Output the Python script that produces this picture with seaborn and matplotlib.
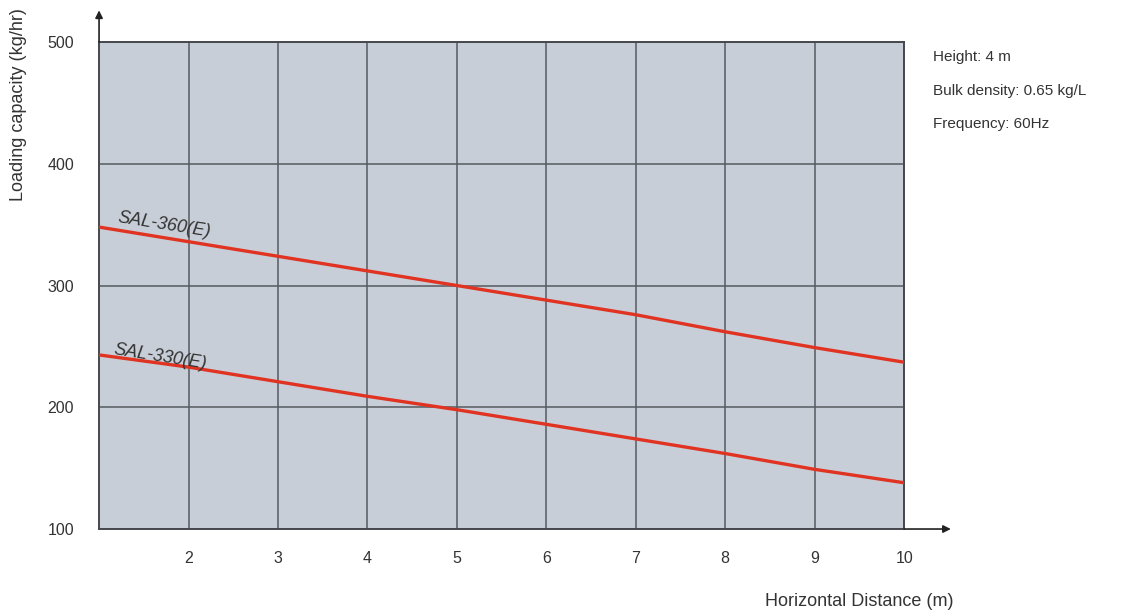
import matplotlib
matplotlib.use("Agg")
import matplotlib.pyplot as plt
import seaborn as sns
import pandas as pd

distance = [1, 2, 3, 4, 5, 6, 7, 8, 9, 10]
sal360 = [348, 336, 324, 312, 300, 288, 276, 262, 249, 237]
sal330 = [243, 233, 221, 209, 198, 186, 174, 162, 149, 138]
series_names = ["SAL-360(E)", "SAL-330(E)"]
x_ticks = [2, 3, 4, 5, 6, 7, 8, 9, 10]
y_ticks = [100, 200, 300, 400, 500]
notes = ["Height: 4 m", "Bulk density: 0.65 kg/L", "Frequency: 60Hz"]

df = pd.DataFrame({
    "x": distance * 2,
    "y": sal360 + sal330,
    "s": [series_names[0]] * len(distance) + [series_names[1]] * len(distance),
})

sns.set_theme(style="white")
plt.rcParams["font.family"] = ["Liberation Sans", "DejaVu Sans"]

fig = plt.figure(figsize=(11.32, 6.16), dpi=100)
ax = fig.add_axes([0.0875, 0.1412, 0.7112, 0.7906])
ax.set_facecolor("#c8ced7")

sns.lineplot(data=df, x="x", y="y", hue="s", palette=["#e03322", "#e03322"],
             linewidth=2.4, legend=False, ax=ax, zorder=3)

ax.set_xlim(1, 10)
ax.set_ylim(100, 500)
ax.set_xticks(x_ticks)
ax.set_yticks(y_ticks)
ax.grid(True, color="#555a60", linewidth=1.1, zorder=1)
ax.set_axisbelow(True)
for s in ax.spines.values():
    s.set_color("#45484d")
    s.set_linewidth(1.4)
ax.tick_params(axis="both", length=0, labelsize=11.5, colors="#333333")
ax.tick_params(axis="x", pad=16)
ax.tick_params(axis="y", pad=18)
ax.set_xlabel("")
ax.set_ylabel("")

# axis arrows
ax.annotate("", xy=(0, 1.065), xycoords="axes fraction", xytext=(0, 1.0),
            textcoords="axes fraction",
            arrowprops=dict(arrowstyle="-|>", color="#222222", lw=1.2, mutation_scale=11,
                            shrinkA=0, shrinkB=0))
ax.annotate("", xy=(1.058, 0), xycoords="axes fraction", xytext=(1.0, 0),
            textcoords="axes fraction",
            arrowprops=dict(arrowstyle="-|>", color="#222222", lw=1.2, mutation_scale=11,
                            shrinkA=0, shrinkB=0))

fig.text(0.016, 0.83, "Loading capacity (kg/hr)", rotation=90, ha="center", va="center",
         fontsize=13, color="#333333")
fig.text(0.759, 0.023, "Horizontal Distance (m)", ha="center", va="center",
         fontsize=13, color="#333333")

for i, t in enumerate(notes):
    fig.text(0.824, 0.907 - i * 0.054, t, ha="left", va="center", fontsize=11, color="#333333")

ax.text(1.2, sal360[0] - 11, series_names[0], rotation=-9, style="italic", fontsize=13,
        color="#333333", ha="left", va="bottom", zorder=4)
ax.text(1.15, sal330[0] - 15, series_names[1], rotation=-9, style="italic", fontsize=13,
        color="#333333", ha="left", va="bottom", zorder=4)

fig.savefig("out.png", dpi=100)
